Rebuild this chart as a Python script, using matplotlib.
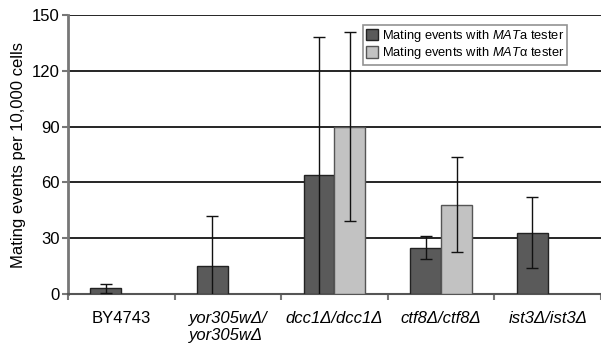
import matplotlib
matplotlib.use("Agg")
import matplotlib.pyplot as plt
import numpy as np

plt.rcParams['font.family'] = ['Liberation Sans', 'DejaVu Sans']
plt.rcParams['mathtext.fontset'] = 'custom'
plt.rcParams['mathtext.it'] = 'Liberation Sans:italic'
plt.rcParams['mathtext.rm'] = 'Liberation Sans'

categories = ["BY4743", "yor305wΔ/\nyor305wΔ", "dcc1Δ/dcc1Δ", "ctf8Δ/ctf8Δ", "ist3Δ/ist3Δ"]
italic_flags = [False, True, True, True, True]
mata_values = [3, 15, 64, 25, 33]
mata_errors = [2.5, 27, 74, 6, 19]
matalpha_values = [np.nan, np.nan, 90, 48, np.nan]
matalpha_errors = [np.nan, np.nan, 51, 25.5, np.nan]
yticks = [0, 30, 60, 90, 120, 150]

fig = plt.figure(figsize=(6.01, 3.5), dpi=100)
ax = fig.add_axes([0.113, 0.16, 0.887, 0.797])

x = np.arange(len(categories))
w = 0.29
dark = '#5a5a5a'
light = '#c2c2c2'

ax.bar(x - w/2, mata_values, w, color=dark, edgecolor='#222222', linewidth=1.0, zorder=3,
       label='Mating events with $\\it{MAT}$a tester')
ax.bar(x + w/2, matalpha_values, w, color=light, edgecolor='#555555', linewidth=1.0, zorder=3,
       label='Mating events with $\\it{MAT}$α tester')
ax.errorbar(x - w/2, mata_values, yerr=mata_errors, fmt='none', ecolor='#111111',
            elinewidth=1.0, capsize=4, capthick=1.0, zorder=4)
ax.errorbar(x + w/2, matalpha_values, yerr=matalpha_errors, fmt='none', ecolor='#111111',
            elinewidth=1.0, capsize=4, capthick=1.0, zorder=4)

ax.set_xlim(-0.5, len(categories) - 0.5)
ax.set_ylim(0, 150)
ax.set_yticks(yticks)
ax.yaxis.grid(True, color='black', linewidth=1.2, zorder=0)
ax.set_axisbelow(True)
ax.tick_params(axis='y', labelsize=12, length=4, width=1.5, color='#777777', direction='out', pad=2)

ax.set_xticks(np.arange(len(categories) + 1) - 0.5)
ax.set_xticklabels([])
ax.tick_params(axis='x', length=4, width=1.5, color='#777777', direction='out')
for i, (c, it) in enumerate(zip(categories, italic_flags)):
    ax.text(i, -0.062, c, transform=ax.get_xaxis_transform(), ha='center', va='top',
            fontsize=12, style='italic' if it else 'normal', linespacing=1.15,
            multialignment='left')

for s in ['top', 'right']:
    ax.spines[s].set_visible(False)
ax.spines['left'].set_color('#777777')
ax.spines['left'].set_linewidth(2)
ax.spines['bottom'].set_color('#555555')
ax.spines['bottom'].set_linewidth(1.5)

ax.set_ylabel('Mating events per 10,000 cells', fontsize=12, labelpad=4)

leg = ax.legend(loc='upper right', bbox_to_anchor=(0.937, 0.965), fontsize=9.3,
                frameon=True, fancybox=False, handlelength=0.9, handleheight=1.0,
                handletextpad=0.3, borderpad=0.25, labelspacing=0.1, borderaxespad=0)
leg.get_frame().set_edgecolor('#777777')
leg.get_frame().set_linewidth(1.2)

fig.savefig('out.png', dpi=100)
